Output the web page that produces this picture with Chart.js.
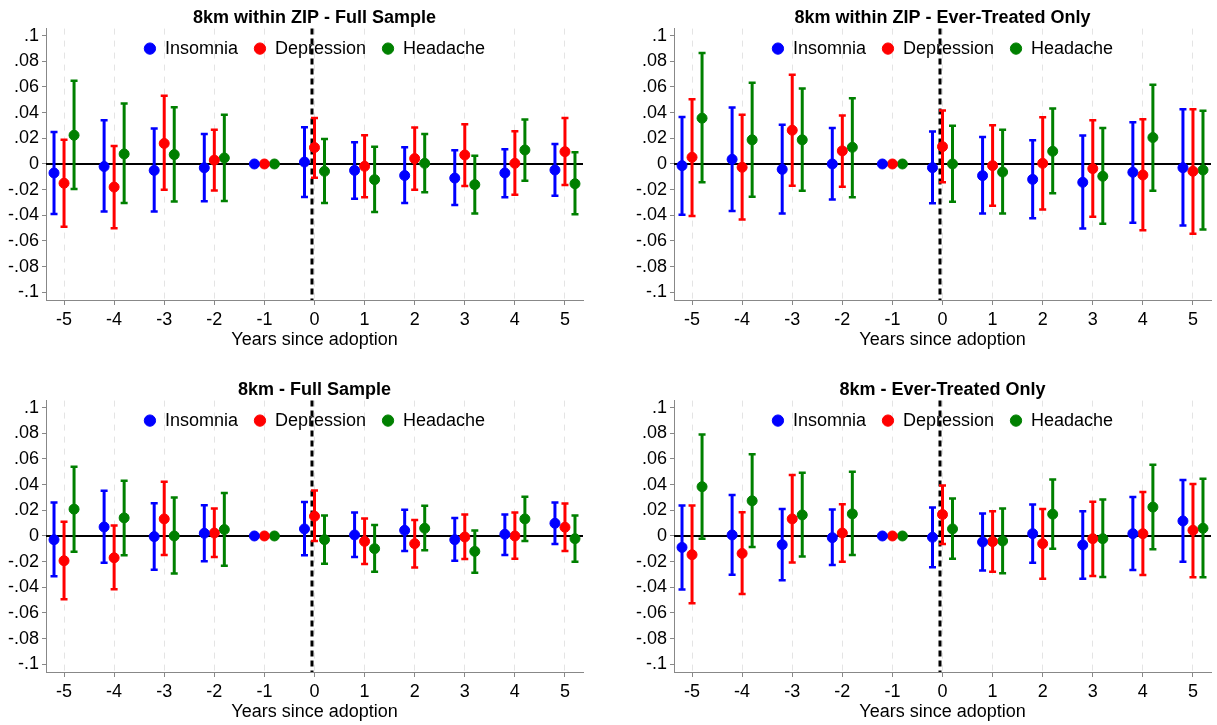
<!DOCTYPE html>
<html>
<head>
<meta charset="utf-8">
<script src="https://cdn.jsdelivr.net/npm/chart.js@4.4.1/dist/chart.umd.min.js"></script>
<style>
body { margin: 0; background: #fff; overflow: hidden; }
canvas { position: absolute; }
</style>
</head>
<body>
<canvas id="c1" width="589" height="355" style="left:0;top:0"></canvas>
<canvas id="c2" width="589" height="355" style="left:628px;top:0"></canvas>
<canvas id="c3" width="589" height="355" style="left:0;top:372px"></canvas>
<canvas id="c4" width="589" height="355" style="left:628px;top:372px"></canvas>
<script>
const years = [-5, -4, -3, -2, -1, 0, 1, 2, 3, 4, 5]
const seriesNames = ['Insomnia', 'Depression', 'Headache']
const seriesColors = ['#0000ff', '#ff0000', '#008000']
const seriesOffset = [-0.2, 0, 0.2]
const yTicks = [-0.1, -0.08, -0.06, -0.04, -0.02, 0, 0.02, 0.04, 0.06, 0.08, 0.1]
const yTickLabels = ['-.1', '-.08', '-.06', '-.04', '-.02', '0', '.02', '.04', '.06', '.08', '.1']
const treatLine = -0.05

// 8km within ZIP - Full Sample
const zipFullIns   = [-0.007, -0.002, -0.005, -0.003, 0, 0.0015, -0.005, -0.009, -0.011, -0.007, -0.0047]
const zipFullInsLo = [-0.039, -0.037, -0.037, -0.029, 0, -0.0257, -0.027, -0.0305, -0.032, -0.026, -0.0247]
const zipFullInsHi = [0.025, 0.034, 0.0276, 0.0234, 0, 0.0286, 0.017, 0.013, 0.0107, 0.0115, 0.0156]
const zipFullDep   = [-0.015, -0.018, 0.016, 0.003, 0, 0.0128, -0.0018, 0.0042, 0.007, 0.0005, 0.0096]
const zipFullDepLo = [-0.049, -0.050, -0.020, -0.0206, 0, -0.0107, -0.026, -0.020, -0.0172, -0.024, -0.0164]
const zipFullDepHi = [0.0188, 0.0141, 0.0531, 0.0266, 0, 0.0359, 0.0224, 0.0284, 0.031, 0.0255, 0.0359]
const zipFullHead   = [0.0224, 0.0078, 0.0073, 0.0047, 0, -0.0057, -0.0122, 0.0005, -0.0161, 0.0109, -0.0154]
const zipFullHeadLo = [-0.0195, -0.0305, -0.0292, -0.0289, 0, -0.0305, -0.0375, -0.0221, -0.0385, -0.013, -0.0391]
const zipFullHeadHi = [0.0648, 0.0471, 0.0443, 0.0383, 0, 0.0195, 0.0135, 0.0234, 0.0065, 0.0346, 0.0091]

// 8km within ZIP - Ever-Treated Only
const zipEverIns   = [-0.0013, 0.0036, -0.0042, 0, 0, -0.0029, -0.0091, -0.012, -0.0143, -0.0065, -0.0029]
const zipEverInsLo = [-0.0396, -0.0367, -0.0385, -0.0276, 0, -0.0307, -0.0385, -0.0422, -0.0503, -0.0458, -0.0479]
const zipEverInsHi = [0.0367, 0.044, 0.0305, 0.0281, 0, 0.0253, 0.0211, 0.0185, 0.0221, 0.0326, 0.0427]
const zipEverDep   = [0.0052, -0.0026, 0.0263, 0.0102, 0, 0.0135, -0.0013, 0.0005, -0.0036, -0.0086, -0.0057]
const zipEverDepLo = [-0.0406, -0.0432, -0.0169, -0.0177, 0, -0.0143, -0.0326, -0.0354, -0.0411, -0.0516, -0.0544]
const zipEverDepHi = [0.0505, 0.0383, 0.0695, 0.0378, 0, 0.0417, 0.0302, 0.0365, 0.0341, 0.0349, 0.0427]
const zipEverHead   = [0.0357, 0.0188, 0.0188, 0.013, 0, 0, -0.0063, 0.0099, -0.0096, 0.0206, -0.0047]
const zipEverHeadLo = [-0.0143, -0.0255, -0.0208, -0.026, 0, -0.0294, -0.0385, -0.0229, -0.0466, -0.0208, -0.051]
const zipEverHeadHi = [0.0865, 0.0633, 0.0589, 0.0513, 0, 0.0297, 0.0266, 0.0432, 0.0281, 0.0617, 0.0414]

// 8km - Full Sample
const allFullIns   = [-0.0029, 0.007, -0.0005, 0.0021, 0, 0.0055, 0.0008, 0.0044, -0.0029, 0.0013, 0.0099]
const allFullInsLo = [-0.0313, -0.0209, -0.0264, -0.0196, 0, -0.0151, -0.0164, -0.0117, -0.0193, -0.0149, -0.0063]
const allFullInsHi = [0.0261, 0.0352, 0.0256, 0.024, 0, 0.0264, 0.0183, 0.0204, 0.0141, 0.0167, 0.0261]
const allFullDep   = [-0.0193, -0.017, 0.0133, 0.0023, 0, 0.0154, -0.0042, -0.006, -0.0008, 0, 0.0068]
const allFullDepLo = [-0.0493, -0.0415, -0.0149, -0.0164, 0, -0.0039, -0.0219, -0.0245, -0.018, -0.0178, -0.0117]
const allFullDepHi = [0.011, 0.0081, 0.0423, 0.0214, 0, 0.0355, 0.0136, 0.0125, 0.0167, 0.0183, 0.0253]
const allFullHead   = [0.0209, 0.0141, 0, 0.005, 0, -0.0029, -0.0099, 0.006, -0.012, 0.0133, -0.0021]
const allFullHeadLo = [-0.0123, -0.0151, -0.0292, -0.0232, 0, -0.0217, -0.0279, -0.0112, -0.0287, -0.0039, -0.0201]
const allFullHeadHi = [0.054, 0.0431, 0.03, 0.0334, 0, 0.0159, 0.0086, 0.0235, 0.0042, 0.0305, 0.0159]

// 8km - Ever-Treated Only
const allEverIns   = [-0.0089, 0.0008, -0.0068, -0.0013, 0, -0.001, -0.0047, 0.0018, -0.007, 0.0018, 0.0117]
const allEverInsLo = [-0.0418, -0.0303, -0.0345, -0.0227, 0, -0.0243, -0.0269, -0.0209, -0.0334, -0.0266, -0.0201]
const allEverInsHi = [0.0238, 0.0319, 0.0211, 0.0206, 0, 0.0222, 0.0175, 0.0245, 0.0193, 0.0303, 0.0436]
const allEverDep   = [-0.0146, -0.0136, 0.0133, 0.0023, 0, 0.0167, -0.0044, -0.006, -0.0021, 0.0018, 0.0044]
const allEverDepLo = [-0.0525, -0.0452, -0.0206, -0.0201, 0, -0.0063, -0.0279, -0.0334, -0.0311, -0.0305, -0.0321]
const allEverDepHi = [0.0238, 0.0185, 0.0475, 0.0248, 0, 0.0394, 0.0193, 0.0211, 0.0266, 0.0342, 0.0405]
const allEverHead   = [0.0384, 0.0274, 0.0164, 0.0172, 0, 0.0055, -0.0039, 0.017, -0.0021, 0.0225, 0.006]
const allEverHeadLo = [-0.0021, -0.0086, -0.0159, -0.0149, 0, -0.0178, -0.029, -0.0099, -0.0319, -0.0104, -0.0321]
const allEverHeadHi = [0.0791, 0.0637, 0.0493, 0.0501, 0, 0.0292, 0.0214, 0.0441, 0.0285, 0.0556, 0.0446]

Chart.defaults.font.family = '"Liberation Sans", Arial, sans-serif'
Chart.defaults.font.size = 18
Chart.defaults.color = '#000'

// zero line, dashed treatment line, and the CI whiskers
const errorBars = {
    id: 'errorBars',
    beforeLayout(chart) {
        // legend sits inside the plot but laid out in one row
        chart.legend.isHorizontal = () => true
    },
    afterLayout(chart) {
        const lg = chart.legend
        lg.left = chart.chartArea.left
        lg.right = chart.chartArea.right
        lg.top -= 5
        lg.bottom -= 5
    },
    beforeDatasetsDraw(chart) {
        const {ctx, chartArea, scales: {x, y}} = chart
        ctx.save()
        const y0 = y.getPixelForValue(0)
        ctx.strokeStyle = '#000'
        ctx.lineWidth = 2
        ctx.beginPath()
        ctx.moveTo(chartArea.left, y0)
        ctx.lineTo(chartArea.right, y0)
        ctx.stroke()

        const tx = x.getPixelForValue(treatLine)
        ctx.lineWidth = 3
        ctx.setLineDash([6, 4])
        ctx.beginPath()
        ctx.moveTo(tx, chartArea.top)
        ctx.lineTo(tx, chartArea.bottom)
        ctx.stroke()
        ctx.setLineDash([])

        for (const ds of chart.data.datasets) {
            ctx.strokeStyle = ds.borderColor
            for (const p of ds.data) {
                if (p.lo === p.hi) continue
                const px = x.getPixelForValue(p.x)
                const y1 = y.getPixelForValue(p.lo)
                const y2 = y.getPixelForValue(p.hi)
                ctx.lineWidth = 3
                ctx.beginPath()
                ctx.moveTo(px, y1)
                ctx.lineTo(px, y2)
                ctx.stroke()
                ctx.lineWidth = 2.5
                ctx.beginPath()
                ctx.moveTo(px - 3.5, y1); ctx.lineTo(px + 3.5, y1)
                ctx.moveTo(px - 3.5, y2); ctx.lineTo(px + 3.5, y2)
                ctx.stroke()
            }
        }
        ctx.restore()
    }
}

function makePanel(id, title, est, lo, hi) {
    const datasets = seriesNames.map((name, s) => ({
        label: name,
        data: years.map((yr, i) => ({x: yr + seriesOffset[s], y: est[s][i], lo: lo[s][i], hi: hi[s][i]})),
        backgroundColor: seriesColors[s],
        borderColor: seriesColors[s],
        borderWidth: 1,
        pointRadius: 5,
        pointStyle: 'circle'
    }))
    return new Chart(document.getElementById(id), {
        type: 'scatter',
        data: {datasets},
        plugins: [errorBars],
        options: {
            responsive: false,
            animation: false,
            devicePixelRatio: 1,
            layout: {padding: {left: 6, right: 4, top: 0, bottom: 0}},
            plugins: {
                title: {
                    display: true, text: title, fullSize: false,
                    font: {size: 18, weight: 'bold'}, color: '#000',
                    padding: {top: 7, bottom: 0}
                },
                legend: {
                    position: 'chartArea',
                    align: 'center',
                    labels: {usePointStyle: true, pointStyle: 'circle', boxWidth: 12, boxHeight: 8, padding: 16, color: '#000'}
                },
                tooltip: {enabled: false}
            },
            scales: {
                x: {
                    type: 'linear', min: -5.36, max: 5.36,
                    afterBuildTicks: s => { s.ticks = years.map(v => ({value: v})) },
                    afterFit: s => { s.height = 55 },
                    ticks: {padding: 4, color: '#000', callback: v => String(v)},
                    grid: {color: '#e4e4e4', lineWidth: 1, tickColor: '#888', tickLength: 5},
                    border: {display: true, color: '#888', width: 1, dash: [6, 6]},
                    title: {display: true, text: 'Years since adoption', color: '#000', padding: {top: 0, bottom: 4}}
                },
                y: {
                    type: 'linear', min: -0.106, max: 0.1055,
                    afterBuildTicks: s => { s.ticks = yTicks.map(v => ({value: v})) },
                    afterFit: s => { s.width = 40 },
                    ticks: {padding: 3, color: '#000', callback: (v, i) => yTickLabels[i]},
                    grid: {drawOnChartArea: false, tickColor: '#888', tickLength: 4},
                    border: {display: true, color: '#888', width: 1}
                }
            }
        }
    })
}

makePanel('c1', '8km within ZIP - Full Sample',
    [zipFullIns, zipFullDep, zipFullHead], [zipFullInsLo, zipFullDepLo, zipFullHeadLo], [zipFullInsHi, zipFullDepHi, zipFullHeadHi])
makePanel('c2', '8km within ZIP - Ever-Treated Only',
    [zipEverIns, zipEverDep, zipEverHead], [zipEverInsLo, zipEverDepLo, zipEverHeadLo], [zipEverInsHi, zipEverDepHi, zipEverHeadHi])
makePanel('c3', '8km - Full Sample',
    [allFullIns, allFullDep, allFullHead], [allFullInsLo, allFullDepLo, allFullHeadLo], [allFullInsHi, allFullDepHi, allFullHeadHi])
makePanel('c4', '8km - Ever-Treated Only',
    [allEverIns, allEverDep, allEverHead], [allEverInsLo, allEverDepLo, allEverHeadLo], [allEverInsHi, allEverDepHi, allEverHeadHi])
</script>
</body>
</html>
